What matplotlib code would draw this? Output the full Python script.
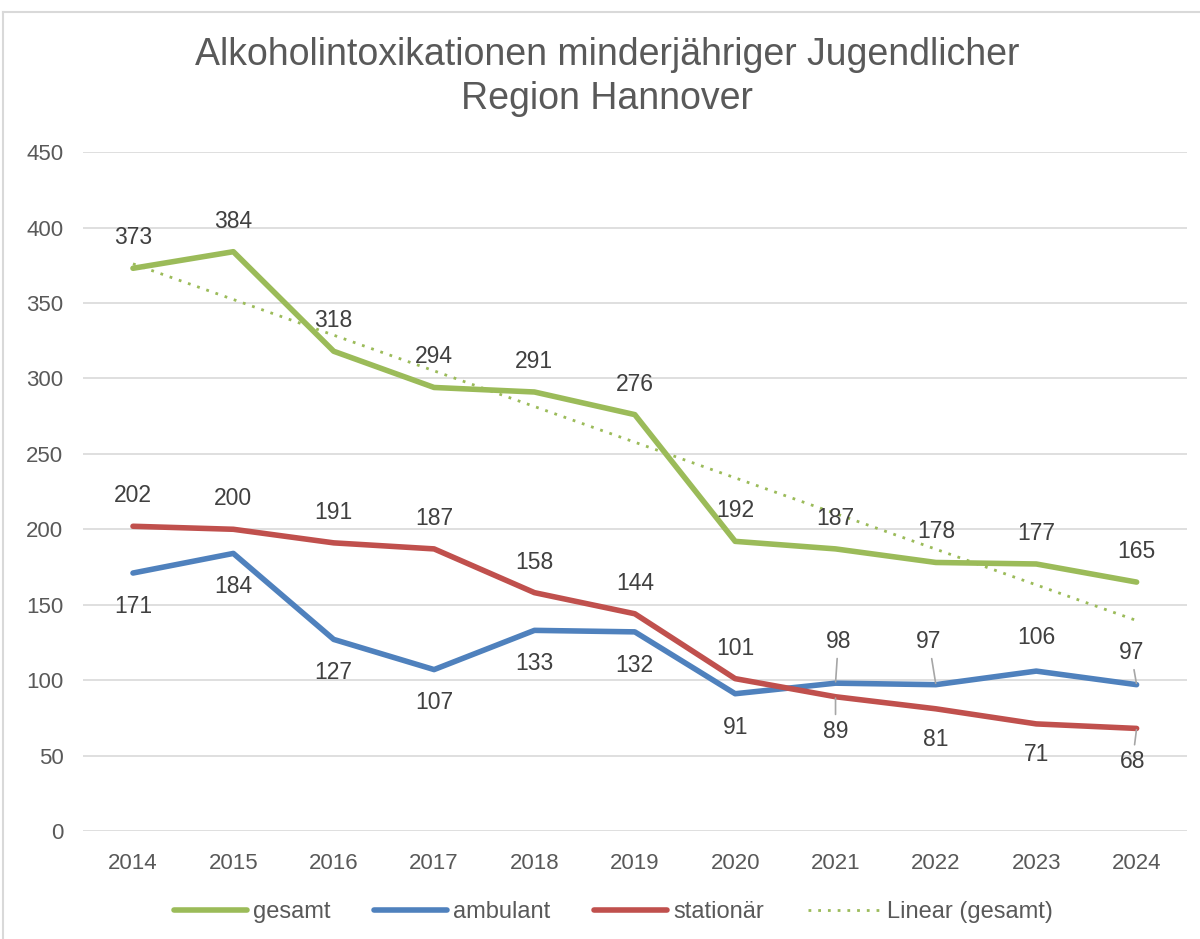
import matplotlib
matplotlib.use("Agg")
import matplotlib.pyplot as plt
from matplotlib.lines import Line2D
import numpy as np

plt.rcParams['font.family'] = ['Liberation Sans', 'DejaVu Sans']

years = [2014, 2015, 2016, 2017, 2018, 2019, 2020, 2021, 2022, 2023, 2024]
gesamt = [373, 384, 318, 294, 291, 276, 192, 187, 178, 177, 165]
ambulant = [171, 184, 127, 107, 133, 132, 91, 98, 97, 106, 97]
stationaer = [202, 200, 191, 187, 158, 144, 101, 89, 81, 71, 68]

# label placement: +1 above, -1 below
amb_pos = [-1, -1, -1, -1, -1, -1, -1, 1, 1, 1, 1]
sta_pos = [1, 1, 1, 1, 1, 1, 1, -1, -1, -1, -1]

green = '#9bbb59'
blue = '#4f81bd'
red = '#c0504d'
txt = '#404040'
grid = '#d9d9d9'

fig = plt.figure(figsize=(12, 9.39), dpi=100)
ax = fig.add_axes([0.069, 0.115, 0.920, 0.723])

x = np.arange(len(years))
ax.plot(x, gesamt, color=green, lw=4, label='gesamt', solid_capstyle='round')
ax.plot(x, ambulant, color=blue, lw=4, label='ambulant', solid_capstyle='round')
ax.plot(x, stationaer, color=red, lw=4, label='stationär', solid_capstyle='round')

# linear trend of gesamt
coef = np.polyfit(x, gesamt, 1)
ax.plot(x, np.polyval(coef, x), color=green, lw=2, ls=(0, (1, 2.5)),
        label='Linear (gesamt)')

lab = dict(ha='center', va='center', fontsize=16.5, color=txt)
for i, v in enumerate(gesamt):
    ax.annotate(str(v), (x[i], v), xytext=(0, 22), textcoords='offset points', **lab)

leader = dict(arrowstyle='-', color='#a6a6a6', lw=1.2, shrinkA=2, shrinkB=1)
amb_lead = {7: (2, 30), 8: (-5, 31), 10: (-4, 23)}
for i, v in enumerate(ambulant):
    if i in amb_lead:
        ax.annotate(str(v), (x[i], v), xytext=amb_lead[i], textcoords='offset points',
                    arrowprops=leader, **lab)
    else:
        ax.annotate(str(v), (x[i], v), xytext=(0, 24 * amb_pos[i]),
                    textcoords='offset points', **lab)

sta_lead = {7: (0, -25), 10: (-3, -24)}
for i, v in enumerate(stationaer):
    if i in sta_lead:
        ax.annotate(str(v), (x[i], v), xytext=sta_lead[i], textcoords='offset points',
                    arrowprops=leader, **lab)
    else:
        ax.annotate(str(v), (x[i], v), xytext=(0, 22 * sta_pos[i]),
                    textcoords='offset points', **lab)

ax.set_xlim(-0.5, len(years) - 0.5)
ax.set_ylim(0, 450)
ax.set_yticks(range(0, 451, 50))
ax.set_xticks(x)
ax.set_xticklabels([str(y) for y in years])
ax.tick_params(axis='both', length=0, labelsize=16, colors='#595959')
ax.tick_params(axis='x', pad=16)
ax.tick_params(axis='y', pad=14)
ax.grid(axis='y', color=grid, lw=1.2)
ax.set_axisbelow(True)
for s in ax.spines.values():
    s.set_visible(False)

fig.text(0.506, 0.918, 'Alkoholintoxikationen minderjähriger Jugendlicher\nRegion Hannover',
         ha='center', va='center', fontsize=27, color='#595959', linespacing=1.28)

fig.legend(loc='center', bbox_to_anchor=(0.511, 1 - 912 / 939), ncol=4, frameon=False,
           fontsize=17, handlelength=3.1, columnspacing=1.85, handletextpad=0.25,
           labelcolor='#595959')

# chart border
fig.add_artist(Line2D([3 / 1200, 3 / 1200], [0, 1 - 12 / 939], color=grid, lw=1.5))
fig.add_artist(Line2D([3 / 1200, 1], [1 - 12 / 939, 1 - 12 / 939], color=grid, lw=1.5))

fig.savefig('out.png', dpi=100)
